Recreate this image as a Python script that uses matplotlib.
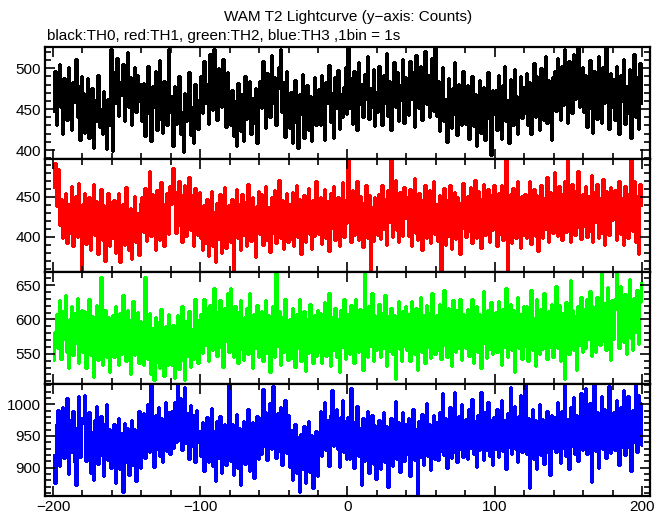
import numpy as np
import matplotlib
matplotlib.use("Agg")
import matplotlib.pyplot as plt
from matplotlib.ticker import MultipleLocator

plt.rcParams['font.family'] = ['Liberation Sans', 'DejaVu Sans']

# counts per 1 s bin, -200 .. +200 s (400 bins)
th0 = [
    448, 497, 431, 476, 505, 452, 419, 488, 466, 437, 502, 471, 425, 483, 459, 511, 440, 478, 412, 490,
    470, 421, 456, 488, 415, 443, 476, 402, 461, 435, 492, 428, 450, 419, 472, 439, 401, 463, 430, 523,
    399, 495, 458, 512, 441, 483, 467, 505, 436, 478, 520, 452, 489, 431, 474, 502, 447, 492, 460, 481,
    436, 482, 417, 469, 503, 444, 411, 478, 452, 497, 425, 466, 510, 438, 421, 485, 456, 430, 524, 447,
    466, 405, 478, 432, 459, 491, 420, 447, 398, 470, 436, 462, 495, 418, 453, 409, 481, 440, 426, 463,
    490, 445, 509, 458, 481, 432, 518, 474, 449, 524, 466, 437, 500, 483, 452, 511, 461, 428, 495, 472,
    431, 474, 417, 460, 405, 482, 447, 423, 469, 411, 490, 438, 452, 485, 419, 464, 433, 476, 408, 455,
    484, 451, 509, 463, 427, 494, 471, 440, 516, 458, 489, 431, 475, 502, 524, 447, 483, 416, 497, 460,
    427, 471, 409, 455, 486, 433, 402, 468, 444, 493, 415, 459, 480, 424, 466, 411, 449, 489, 430, 462,
    475, 430, 492, 446, 412, 483, 457, 504, 434, 470, 415, 489, 451, 498, 426, 468, 440, 477, 502, 444,
    526, 451, 488, 432, 497, 470, 425, 508, 456, 481, 440, 493, 463, 515, 438, 476, 452, 499, 429, 471,
    447, 503, 472, 430, 492, 458, 519, 441, 484, 425, 477, 508, 452, 496, 436, 480, 461, 511, 433, 489,
    486, 443, 509, 462, 495, 428, 516, 474, 451, 503, 437, 482, 521, 456, 492, 440, 476, 512, 448, 526,
    441, 485, 423, 470, 501, 436, 462, 410, 488, 449, 427, 476, 508, 443, 418, 481, 455, 431, 497, 465,
    432, 479, 414, 460, 491, 429, 468, 405, 447, 486, 421, 455, 477, 412, 463, 496, 438, 394, 473, 444,
    474, 425, 492, 448, 413, 480, 503, 436, 461, 408, 487, 452, 430, 499, 466, 420, 457, 491, 439, 477,
    445, 494, 431, 483, 419, 472, 507, 440, 491, 455, 424, 500, 466, 437, 515, 433, 486, 451, 412, 489,
    497, 448, 512, 466, 437, 503, 455, 524, 481, 433, 509, 473, 445, 518, 462, 490, 526, 452, 486, 501,
    446, 492, 428, 479, 510, 450, 421, 497, 463, 438, 515, 482, 433, 501, 457, 525, 470, 426, 494, 452,
    487, 437, 503, 451, 420, 492, 460, 511, 432, 478, 445, 499, 415, 469, 518, 440, 489, 426, 506, 458,
]
th1 = [
    462, 492, 438, 484, 415, 447, 398, 436, 455, 392, 441, 405, 463, 388, 430, 451, 400, 467, 421, 357,
    441, 455, 391, 428, 450, 384, 433, 466, 402, 444, 378, 431, 460, 396, 439, 370, 425, 454, 389, 443,
    398, 446, 380, 427, 455, 368, 422, 441, 390, 462, 405, 383, 436, 372, 428, 451, 393, 430, 377, 442,
    449, 406, 461, 395, 437, 482, 401, 453, 417, 384, 458, 430, 396, 468, 442, 389, 433, 455, 404, 463,
    441, 486, 457, 405, 449, 470, 414, 393, 453, 465, 401, 440, 475, 409, 452, 388, 461, 437, 402, 456,
    398, 383, 440, 392, 447, 376, 428, 457, 389, 431, 368, 442, 397, 453, 380, 433, 462, 386, 426, 439,
    393, 447, 357, 430, 460, 398, 441, 384, 453, 402, 443, 388, 466, 431, 395, 449, 404, 375, 438, 457,
    403, 453, 390, 440, 463, 396, 437, 381, 449, 405, 458, 392, 436, 471, 399, 446, 385, 429, 455, 394,
    441, 397, 456, 388, 435, 465, 400, 447, 379, 431, 452, 394, 440, 461, 403, 385, 446, 401, 470, 428,
    404, 450, 391, 438, 459, 398, 444, 382, 455, 411, 463, 396, 437, 449, 388, 441, 468, 400, 446, 417,
    497, 445, 393, 458, 402, 440, 470, 396, 451, 413, 387, 443, 464, 399, 452, 358, 437, 395, 449, 408,
    402, 453, 397, 465, 410, 447, 390, 458, 419, 497, 400, 450, 471, 409, 393, 456, 438, 401, 462, 424,
    449, 401, 460, 389, 443, 473, 405, 396, 454, 416, 384, 447, 465, 398, 440, 458, 392, 437, 470, 403,
    441, 395, 452, 356, 433, 461, 390, 446, 401, 464, 385, 438, 456, 397, 449, 405, 379, 443, 467, 410,
    400, 451, 407, 462, 392, 445, 471, 398, 457, 415, 386, 448, 466, 402, 439, 459, 394, 452, 409, 464,
    444, 388, 455, 403, 465, 396, 448, 497, 356, 437, 453, 392, 461, 414, 399, 469, 408, 386, 451, 402,
    453, 398, 445, 470, 391, 439, 459, 401, 452, 382, 441, 465, 399, 448, 410, 474, 394, 456, 413, 405,
    481, 447, 401, 463, 412, 396, 455, 470, 406, 497, 450, 393, 466, 419, 402, 458, 482, 411, 397, 453,
    414, 463, 400, 451, 407, 477, 393, 456, 418, 466, 398, 448, 405, 472, 390, 457, 440, 402, 462, 421,
    443, 458, 396, 455, 470, 403, 448, 390, 463, 412, 399, 454, 497, 407, 469, 394, 451, 378, 466, 440,
]
th2 = [
    541, 582, 608, 559, 628, 543, 612, 571, 635, 553, 530, 601, 620, 548, 609, 566, 631, 537, 597, 614,
    552, 612, 529, 597, 630, 548, 605, 516, 589, 621, 541, 600, 661, 533, 588, 613, 546, 603, 524, 594,
    606, 545, 620, 558, 533, 610, 550, 636, 596, 539, 614, 557, 521, 601, 627, 548, 593, 611, 537, 598,
    592, 533, 661, 600, 543, 609, 521, 588, 512, 604, 538, 596, 529, 615, 550, 517, 591, 534, 608, 547,
    533, 592, 515, 577, 606, 528, 586, 619, 539, 512, 597, 547, 612, 531, 586, 542, 630, 590, 536, 601,
    608, 551, 630, 563, 616, 540, 621, 601, 555, 645, 612, 547, 606, 628, 559, 531, 617, 568, 638, 552,
    645, 605, 546, 619, 561, 536, 612, 628, 557, 541, 603, 617, 550, 639, 565, 530, 608, 558, 621, 545,
    555, 612, 539, 601, 628, 551, 607, 524, 593, 620, 545, 668, 562, 612, 534, 604, 553, 630, 591, 541,
    600, 544, 616, 555, 531, 608, 559, 630, 540, 596, 612, 525, 600, 551, 623, 558, 536, 607, 547, 614,
    553, 609, 536, 602, 626, 547, 595, 638, 532, 604, 556, 617, 545, 601, 524, 613, 560, 630, 542, 599,
    608, 550, 621, 562, 537, 630, 568, 553, 615, 558, 527, 668, 606, 546, 619, 561, 638, 540, 607, 556,
    601, 622, 545, 610, 559, 635, 532, 605, 554, 616, 550, 607, 514, 599, 627, 557, 540, 612, 562, 619,
    556, 608, 539, 627, 599, 550, 616, 526, 602, 632, 553, 606, 536, 621, 560, 609, 544, 639, 597, 549,
    607, 555, 622, 542, 611, 643, 561, 546, 617, 600, 532, 628, 604, 553, 614, 558, 629, 541, 608, 565,
    558, 615, 547, 604, 629, 536, 601, 619, 553, 608, 529, 596, 642, 566, 544, 613, 557, 626, 550, 606,
    611, 552, 627, 565, 534, 615, 560, 645, 546, 606, 622, 555, 614, 524, 601, 633, 558, 608, 543, 619,
    562, 620, 540, 608, 643, 555, 602, 532, 630, 564, 550, 615, 557, 638, 605, 543, 612, 560, 623, 546,
    607, 649, 558, 621, 540, 610, 562, 514, 626, 567, 550, 658, 613, 556, 605, 527, 619, 563, 632, 552,
    615, 559, 630, 572, 642, 547, 620, 570, 552, 633, 611, 563, 668, 568, 624, 555, 647, 610, 541, 628,
    572, 630, 668, 613, 558, 648, 585, 567, 637, 550, 622, 659, 573, 556, 631, 581, 643, 564, 626, 655,
]
th3 = [
    920, 876, 968, 991, 902, 979, 996, 915, 963, 1010, 890, 975, 924, 989, 908, 873, 964, 1013, 917, 978,
    970, 1015, 910, 961, 988, 892, 956, 880, 975, 998, 905, 964, 982, 919, 886, 968, 1001, 912, 961, 899,
    911, 968, 876, 957, 979, 898, 954, 862, 971, 909, 963, 888, 950, 975, 904, 961, 879, 948, 989, 900,
    928, 986, 915, 975, 1001, 924, 1030, 969, 901, 983, 930, 996, 918, 978, 909, 967, 1004, 926, 987, 921,
    989, 931, 1003, 940, 1030, 944, 1010, 927, 995, 1027, 938, 986, 914, 999, 934, 983, 908, 991, 941, 957,
    919, 972, 895, 961, 980, 908, 965, 994, 902, 958, 879, 974, 915, 981, 891, 956, 969, 904, 962, 1030,
    910, 968, 888, 955, 985, 900, 963, 872, 950, 974, 905, 961, 992, 894, 953, 972, 884, 959, 981, 913,
    979, 921, 1024, 934, 988, 912, 975, 1002, 929, 1029, 938, 915, 986, 926, 995, 904, 970, 1007, 923, 983,
    901, 960, 880, 942, 968, 891, 948, 862, 953, 897, 965, 876, 944, 973, 893, 951, 868, 939, 958, 886,
    931, 989, 918, 978, 1004, 927, 975, 903, 983, 1022, 934, 956, 992, 929, 901, 980, 1007, 925, 974, 914,
    980, 913, 1025, 931, 899, 974, 997, 918, 963, 872, 978, 910, 969, 990, 891, 961, 983, 906, 967, 882,
    917, 975, 898, 963, 988, 909, 966, 870, 957, 979, 902, 960, 1005, 914, 972, 893, 962, 987, 911, 968,
    921, 979, 887, 968, 993, 912, 961, 856, 974, 916, 985, 904, 964, 1002, 919, 969, 896, 958, 983, 913,
    972, 912, 988, 926, 1017, 920, 979, 899, 967, 995, 915, 974, 1020, 923, 908, 982, 929, 1000, 917, 969,
    977, 914, 992, 931, 1009, 922, 974, 901, 983, 927, 1020, 968, 912, 987, 928, 1003, 919, 975, 904, 980,
    930, 993, 917, 978, 1007, 926, 975, 898, 986, 933, 1027, 921, 974, 998, 929, 908, 981, 1015, 925, 970,
    1030, 922, 979, 868, 968, 993, 913, 975, 898, 962, 1001, 920, 977, 905, 970, 989, 923, 888, 983, 931,
    980, 924, 1004, 939, 907, 989, 931, 1030, 918, 977, 897, 995, 934, 1011, 922, 983, 911, 974, 1018, 927,
    935, 1025, 921, 981, 1002, 877, 974, 1030, 926, 987, 899, 978, 1013, 930, 992, 915, 976, 1029, 923, 985,
    988, 928, 1007, 945, 904, 995, 933, 1022, 920, 981, 1013, 931, 894, 991, 940, 1030, 925, 1015, 1002, 936,
]

curves = [th0, th1, th2, th3]
colors = ['black', '#ff0000', '#00ff00', '#0000ff']
widths = [0.8, 0.8, 0.8, 0.8]
ylims = [(389, 526), (356, 497), (506, 669), (855, 1032)]

W, H = 669, 515
fig = plt.figure(figsize=(W / 100, H / 100), dpi=100)

# panel edges in pixels (top of each panel + bottom of last)
edges_px = [47, 159, 272, 384, 496]
left, right = 45, 650

axes = []
for i, (vals, c, lw, yl) in enumerate(zip(curves, colors, widths, ylims)):
    top, bot = edges_px[i], edges_px[i + 1]
    ax = fig.add_axes([left / W, 1 - bot / H, (right - left) / W, (bot - top) / H],
                      sharex=axes[0] if axes else None)
    edges = np.arange(-200, -200 + len(vals) + 1)
    ax.stairs(vals, edges, color=c, lw=lw, baseline=None, antialiased=False)
    ax.set_xlim(-205.4, 205.4)
    ax.set_ylim(*yl)
    ax.xaxis.set_major_locator(MultipleLocator(100))
    ax.xaxis.set_minor_locator(MultipleLocator(20))
    ax.yaxis.set_major_locator(MultipleLocator(50))
    ax.yaxis.set_minor_locator(MultipleLocator(10))
    ax.tick_params(which='both', direction='in', top=True, right=True, width=1.2,
                   labelsize=11, pad=3)
    ax.tick_params(which='major', length=7)
    ax.tick_params(which='minor', length=4)
    for s in ax.spines.values():
        s.set_linewidth(1.6)
    if i < 3:
        ax.tick_params(labelbottom=False)
    axes.append(ax)

fig.text(348 / W, 1 - 17 / H, 'WAM T2 Lightcurve (y\u2212axis: Counts)',
         ha='center', va='center', fontsize=11)
fig.text(47 / W, 1 - 36 / H, 'black:TH0, red:TH1, green:TH2, blue:TH3 ,1bin = 1s',
         ha='left', va='center', fontsize=11)

fig.savefig('out.png', dpi=100)
